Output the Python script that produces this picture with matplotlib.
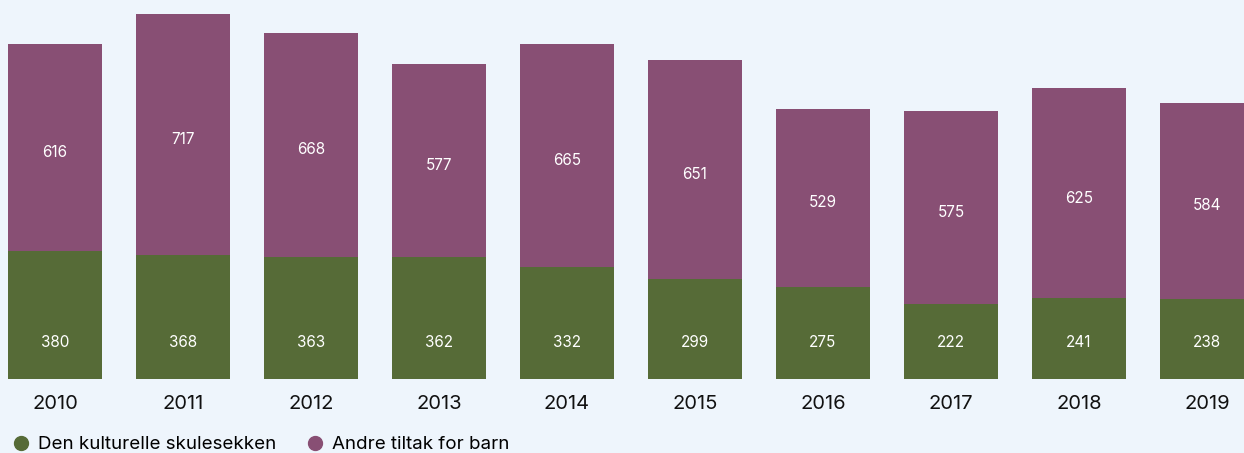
import matplotlib.pyplot as plt
from matplotlib.lines import Line2D

plt.rcParams['font.family'] = ['Inter', 'DejaVu Sans']

years = ['2010', '2011', '2012', '2013', '2014', '2015', '2016', '2017', '2018', '2019']
dks = [380, 368, 363, 362, 332, 299, 275, 222, 241, 238]
andre = [616, 717, 668, 577, 665, 651, 529, 575, 625, 584]

bg = '#EEF5FC'
green = '#566B37'
purple = '#884F74'

fig = plt.figure(figsize=(12.44, 4.53), dpi=100, facecolor=bg)
ax = fig.add_axes([0, 74 / 453, 1, 379 / 453])
ax.set_facecolor(bg)

x = list(range(len(years)))
ax.bar(x, dks, width=0.73, color=green)
ax.bar(x, andre, width=0.73, bottom=dks, color=purple)

for i in x:
    ax.text(i, 110, str(dks[i]), ha='center', va='center', color='white', fontsize=11)
    ax.text(i, dks[i] + andre[i] / 2 - 15, str(andre[i]), ha='center', va='center',
            color='white', fontsize=11)
    ax.text(i, -75, years[i], ha='center', va='center', color='#111111', fontsize=14.5,
            clip_on=False)

ax.set_xlim(-0.43, 9.29)
ax.set_ylim(0, 1128)
ax.axis('off')

handles = [Line2D([], [], marker='o', linestyle='none', markersize=10, color=green),
           Line2D([], [], marker='o', linestyle='none', markersize=10, color=purple)]
fig.legend(handles, ['Den kulturelle skulesekken', 'Andre tiltak for barn'],
           loc='lower left', bbox_to_anchor=(0.0, -0.025), ncol=2, frameon=False,
           fontsize=13.5, handletextpad=0.4, columnspacing=1.6, handlelength=1.0,
           borderaxespad=0.2)

fig.savefig('out.png', dpi=100, facecolor=bg)
